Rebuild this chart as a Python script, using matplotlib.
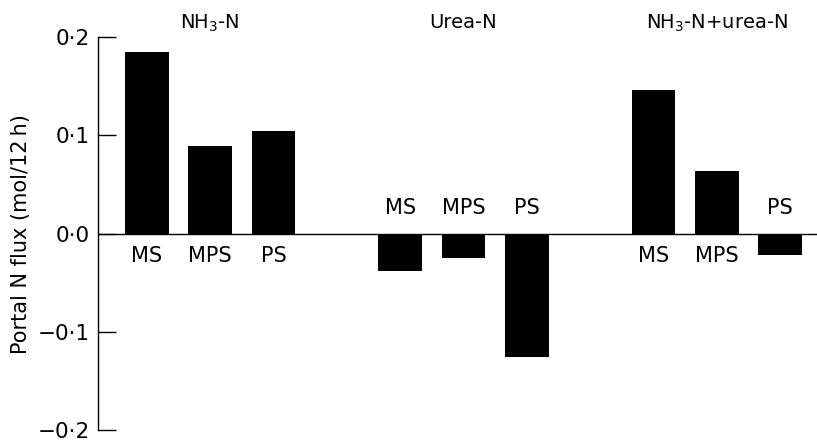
import numpy as np
import matplotlib
matplotlib.use('Agg')
import matplotlib.pyplot as plt

##-Data
groups = ['NH$_3$-N', 'Urea-N', 'NH$_3$-N+urea-N']
diets = ['MS', 'MPS', 'PS']
nh3_n = [0.185, 0.089, 0.104]
urea_n = [-0.038, -0.025, -0.126]
total_n = [0.146, 0.064, -0.022]
yticks = [-0.2, -0.1, 0.0, 0.1, 0.2]
ytick_labels = ['\u22120\u00b72', '\u22120\u00b71', '0\u00b70', '0\u00b71', '0\u00b72']

plt.rcParams['font.family'] = ['DejaVu Sans']

fig = plt.figure(figsize=(8.17, 4.42), dpi=100)
ax = fig.add_axes([0.12, 0.027, 0.88, 0.889])

series = [nh3_n, urea_n, total_n]
for g, vals in enumerate(series):
    x = np.arange(len(diets)) + 4 * g
    ax.bar(x, vals, width=0.69, color='black')
    for xi, v, d in zip(x, vals, diets):
        if v >= 0:
            ax.text(xi, -0.013, d, ha='center', va='top', fontsize=15)
        else:
            ax.text(xi, 0.016, d, ha='center', va='bottom', fontsize=15)
    ax.text(x[1], 0.209, groups[g], ha='center', va='baseline', fontsize=14)

ax.axhline(0, color='black', lw=1)
ax.set_xlim(-0.77, 10.58)
ax.set_ylim(-0.2, 0.2)
ax.set_yticks(yticks)
ax.set_yticklabels(ytick_labels, fontsize=15.5)
ax.tick_params(axis='y', direction='in', length=13, width=1, pad=6)
ax.set_xticks([])
for s in ['top', 'right', 'bottom']:
    ax.spines[s].set_visible(False)
ax.spines['left'].set_linewidth(1)
ax.set_ylabel('Portal N flux (mol/12\u2009h)', fontsize=15, labelpad=5)

fig.savefig('out.png', dpi=100)
